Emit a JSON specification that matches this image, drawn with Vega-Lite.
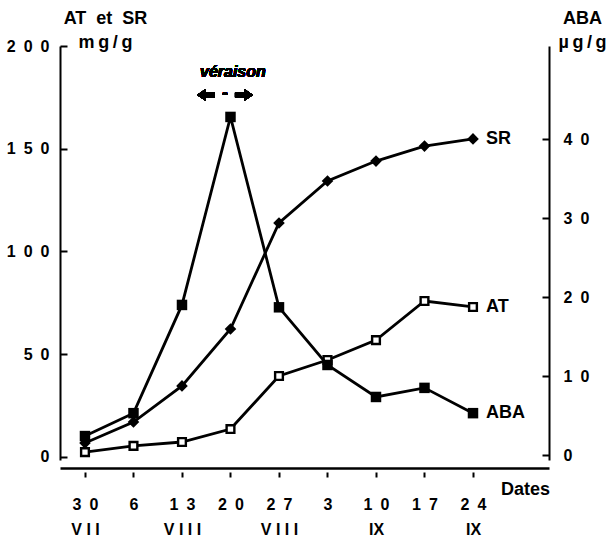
{
  "$schema": "https://vega.github.io/schema/vega-lite/v6.json",
  "autosize": {"type": "none"},
  "padding": {"left": 60, "top": 46, "right": 58, "bottom": 77},
  "width": 489,
  "height": 414,
  "background": "white",
  "config": {
    "view": {"stroke": null},
    "font": "Liberation Sans",
    "axis": {"grid": false, "domainColor": "black", "tickColor": "black", "labelColor": "black", "titleColor": "black", "labelFont": "Liberation Sans", "titleFont": "Liberation Sans", "labelFontWeight": "bold", "titleFontWeight": "bold"}
  },
  "data": {
    "values": [
      {"i": 0, "s": "SR", "v": 6.8}, {"i": 1, "s": "SR", "v": 17.0}, {"i": 2, "s": "SR", "v": 34.6}, {"i": 3, "s": "SR", "v": 62.3}, {"i": 4, "s": "SR", "v": 113.9}, {"i": 5, "s": "SR", "v": 134.3}, {"i": 6, "s": "SR", "v": 144.0}, {"i": 7, "s": "SR", "v": 151.3}, {"i": 8, "s": "SR", "v": 154.8},
      {"i": 0, "s": "AT", "v": 2.4}, {"i": 1, "s": "AT", "v": 5.4}, {"i": 2, "s": "AT", "v": 7.3}, {"i": 3, "s": "AT", "v": 13.6}, {"i": 4, "s": "AT", "v": 39.4}, {"i": 5, "s": "AT", "v": 47.2}, {"i": 6, "s": "AT", "v": 56.9}, {"i": 7, "s": "AT", "v": 75.9}, {"i": 8, "s": "AT", "v": 73.0},
      {"i": 0, "s": "ABA", "v": 2.4}, {"i": 1, "s": "ABA", "v": 5.3}, {"i": 2, "s": "ABA", "v": 19.0}, {"i": 3, "s": "ABA", "v": 42.8}, {"i": 4, "s": "ABA", "v": 18.7}, {"i": 5, "s": "ABA", "v": 11.4}, {"i": 6, "s": "ABA", "v": 7.35}, {"i": 7, "s": "ABA", "v": 8.5}, {"i": 8, "s": "ABA", "v": 5.3}
    ]
  },
  "encoding": {
    "x": {
      "field": "i", "type": "quantitative",
      "scale": {"domain": [-0.515, 9.567], "nice": false, "zero": false},
      "axis": {
        "values": [0, 1, 2, 3, 4, 5, 6, 7, 8],
        "offset": 8,
        "domainWidth": 2.5,
        "tickSize": 9, "tickWidth": 2, "tickDash": [0, 4, 5, 30],
        "labelFontSize": 16, "labelBaseline": "alphabetic", "labelPadding": 32, "labelLineHeight": 25,
        "labelExpr": "datum.value==0?['3\u20020','V\u00a0I\u00a0I']:datum.value==1?'6':datum.value==2?['1\u20023','V\u00a0I\u00a0I\u00a0I']:datum.value==3?'2\u20020':datum.value==4?['2\u20027','V\u00a0I\u00a0I\u00a0I']:datum.value==5?'3':datum.value==6?['1\u20020','IX']:datum.value==7?'1\u20027':['2\u20024','IX']",
        "title": "Dates", "titleFontSize": 18, "titleAngle": 0, "titleAlign": "center", "titleBaseline": "middle", "titleX": 465, "titleY": 21
      }
    }
  },
  "layer": [
    {
      "encoding": {
        "y": {
          "field": "v", "type": "quantitative",
          "scale": {"domain": [-1.46, 200], "nice": false, "zero": false},
          "axis": {
            "orient": "left", "values": [0, 50, 100, 150, 200],
            "domainWidth": 2, "tickSize": -7, "tickWidth": 2,
            "labelFontSize": 16, "labelPadding": 18,
            "labelExpr": "datum.value==200?'2\u20020\u20020':datum.value==150?'1\u20025\u20020':datum.value==100?'1\u20020\u20020':datum.value==50?'5\u20020':'0\u2002'",
            "title": ["AT\u00a0\u00a0et\u00a0\u00a0SR", "m\u2009g\u2009/\u2009g"], "titleFontSize": 18, "titleAngle": 0, "titleAlign": "center", "titleBaseline": "alphabetic", "titleX": 45, "titleY": -22.5, "titleLineHeight": 23.5
          }
        }
      },
      "layer": [
        {
          "transform": [{"filter": "datum.s != 'ABA'"}],
          "mark": {"type": "line", "color": "black", "strokeWidth": 2.8},
          "encoding": {"detail": {"field": "s"}}
        },
        {
          "transform": [{"filter": "datum.s == 'SR'"}],
          "mark": {"type": "point", "shape": "diamond", "filled": true, "color": "black", "opacity": 1, "size": 135}
        },
        {
          "transform": [{"filter": "datum.s == 'AT'"}],
          "mark": {"type": "point", "shape": "square", "filled": true, "fill": "white", "stroke": "black", "strokeWidth": 2.4, "opacity": 1, "size": 60}
        },
        {
          "transform": [{"filter": "datum.s != 'ABA' && datum.i == 8"}],
          "mark": {"type": "text", "align": "left", "baseline": "middle", "dx": 13, "fontSize": 18, "fontWeight": "bold", "color": "black"},
          "encoding": {"text": {"field": "s"}}
        },
        {
          "mark": {"type": "text", "text": "véraison", "fontSize": 16, "fontWeight": "bold", "fontStyle": "italic", "align": "center", "baseline": "middle", "color": "black"},
          "encoding": {"x": {"datum": 3.05}, "y": {"datum": 187.3}}
        },
        {
          "mark": {"type": "point", "shape": "M-1,0L-0.05,-0.65L-0.05,-0.25L1,-0.25L1,0.25L-0.05,0.25L-0.05,0.65Z", "filled": true, "color": "black", "opacity": 1, "size": 324},
          "encoding": {"x": {"datum": 2.495}, "y": {"datum": 176.2}}
        },
        {
          "mark": {"type": "point", "shape": "M1,0L0.05,-0.65L0.05,-0.25L-1,-0.25L-1,0.25L0.05,0.25L0.05,0.65Z", "filled": true, "color": "black", "opacity": 1, "size": 324},
          "encoding": {"x": {"datum": 3.278}, "y": {"datum": 176.2}}
        },
        {
          "mark": {"type": "text", "text": "-", "fontSize": 18, "fontWeight": "bold", "align": "center", "baseline": "middle", "color": "black"},
          "encoding": {"x": {"datum": 2.887}, "y": {"datum": 176.6}}
        }
      ]
    },
    {
      "transform": [{"filter": "datum.s == 'ABA'"}],
      "encoding": {
        "y": {
          "field": "v", "type": "quantitative",
          "scale": {"domain": [-0.63, 51.78], "nice": false, "zero": false},
          "axis": {
            "orient": "right", "values": [0, 10, 20, 30, 40],
            "domainWidth": 2, "tickSize": -7, "tickWidth": 2,
            "labelFontSize": 16, "labelPadding": 21,
            "labelExpr": "datum.value==40?'4\u20020':datum.value==30?'3\u20020':datum.value==20?'2\u20020':datum.value==10?'1\u20020':'0'",
            "title": ["ABA", "µ\u2009g\u2009/\u2009g"], "titleFontSize": 18, "titleAngle": 0, "titleAlign": "center", "titleBaseline": "alphabetic", "titleX": 33, "titleY": -22.5, "titleLineHeight": 23.5
          }
        }
      },
      "layer": [
        {"mark": {"type": "line", "color": "black", "strokeWidth": 2.8}},
        {"mark": {"type": "point", "shape": "square", "filled": true, "color": "black", "opacity": 1, "size": 110}},
        {
          "transform": [{"filter": "datum.i == 8"}],
          "mark": {"type": "text", "align": "left", "baseline": "middle", "dx": 13, "fontSize": 18, "fontWeight": "bold", "color": "black"},
          "encoding": {"text": {"field": "s"}}
        }
      ]
    }
  ],
  "resolve": {"scale": {"y": "independent"}}
}
